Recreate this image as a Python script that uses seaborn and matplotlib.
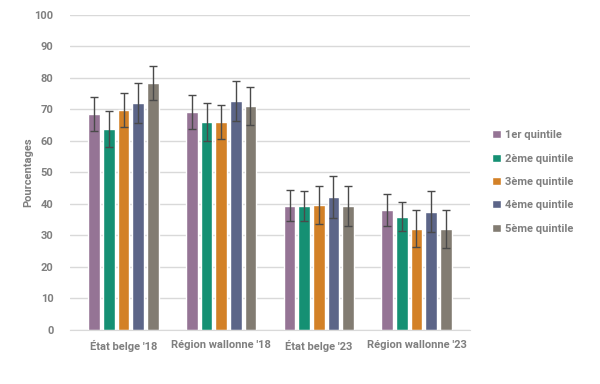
import numpy as np
import pandas as pd
import seaborn as sns
import matplotlib.pyplot as plt

# Categories and series
groups = ["État belge '18", "Région wallonne '18", "État belge '23", "Région wallonne '23"]
quintiles = ["1er quintile", "2ème quintile", "3ème quintile", "4ème quintile", "5ème quintile"]

# values per quintile (one entry per group)
q1 = [68.6, 69.2, 39.4, 38.1]
q2 = [63.8, 66.0, 39.4, 35.9]
q3 = [69.8, 66.0, 39.7, 32.1]
q4 = [72.1, 72.7, 42.2, 37.5]
q5 = [78.4, 71.1, 39.4, 32.1]

# half-width of the error bars
e1 = [5.3, 5.4, 4.9, 5.0]
e2 = [5.6, 5.9, 4.7, 4.6]
e3 = [5.3, 5.4, 6.0, 5.9]
e4 = [6.4, 6.4, 6.6, 6.5]
e5 = [5.5, 5.9, 6.3, 6.0]

colors = ["#9a6f9a", "#00a47e", "#f0820a", "#55608f", "#857c6f"]
text_color = "#7f7f7f"

values = [q1, q2, q3, q4, q5]
errors = [e1, e2, e3, e4, e5]

rows = []
for q, vals, errs in zip(quintiles, values, errors):
    for g, v, e in zip(groups, vals, errs):
        rows.append({"groupe": g, "quintile": q, "valeur": v, "erreur": e})
df = pd.DataFrame(rows)

sns.set_style("white")
plt.rcParams["font.family"] = ["Liberation Sans Narrow", "Roboto", "DejaVu Sans"]

fs = 8
fig, ax = plt.subplots(figsize=(6, 3.84), dpi=100)
fig.subplots_adjust(left=0.117, right=0.783, bottom=0.141, top=0.961)

sns.barplot(data=df, x="groupe", y="valeur", hue="quintile",
            order=groups, hue_order=quintiles, palette=colors,
            width=0.75, gap=0.2, errorbar=None, ax=ax, zorder=2)

# add the error bars on top of each bar, using the bar positions
for container, q in zip(ax.containers, quintiles):
    sub = df[df["quintile"] == q].set_index("groupe").loc[groups]
    xs = [p.get_x() + p.get_width() / 2 for p in container.patches]
    ax.errorbar(xs, sub["valeur"], yerr=sub["erreur"], fmt="none",
                ecolor="#4a4a4a", elinewidth=1.0, capsize=2.6, capthick=1.0, zorder=3)

ax.set_ylim(0, 100)
ax.set_yticks(range(0, 101, 10))
ax.yaxis.grid(True, color="#d9d9d9", linewidth=1, zorder=0)
ax.set_axisbelow(True)
for s in ["top", "right", "left"]:
    ax.spines[s].set_visible(False)
ax.spines["bottom"].set_color("#d9d9d9")

ax.set_xlabel("")
ax.set_ylabel("Pourcentages", color=text_color, fontsize=fs, fontweight="bold", labelpad=1)
ax.tick_params(axis="both", length=0, colors=text_color, labelsize=fs)
ax.tick_params(axis="y", pad=12)
ax.tick_params(axis="x", pad=7)
for lab in ax.get_xticklabels() + ax.get_yticklabels():
    lab.set_fontweight("bold")

leg = ax.legend(loc="center left", bbox_to_anchor=(1.045, 0.47), frameon=False,
                borderaxespad=0, fontsize=fs, handlelength=0.75, handleheight=0.75,
                handletextpad=0.4, labelspacing=1.2)
for t in leg.get_texts():
    t.set_color(text_color)
    t.set_fontweight("bold")

fig.savefig("out.png", dpi=100)
